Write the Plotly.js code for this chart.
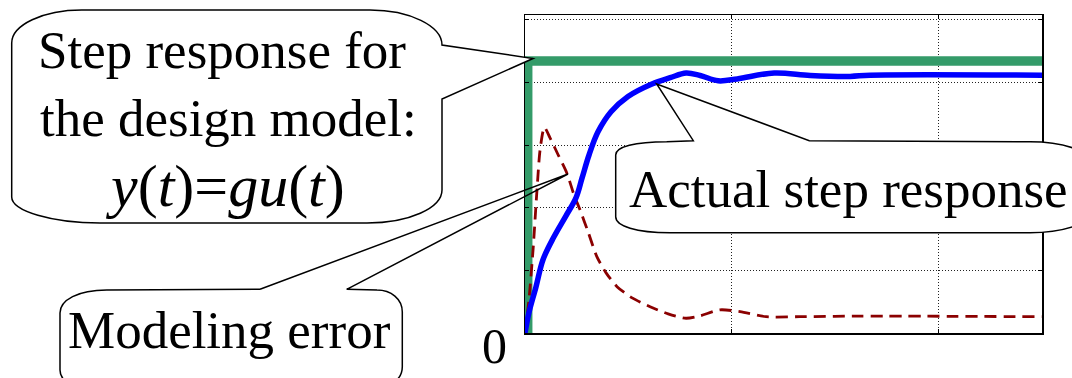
<!DOCTYPE html>
<html>
<head>
<meta charset="utf-8">
<script src="https://cdn.plot.ly/plotly-3.0.1.min.js"></script>
<style>html,body{margin:0;padding:0;background:#fff;}#chart{width:1072px;height:378px;}</style>
</head>
<body>
<div id="chart"></div>
<script>
// ---- data (time in arbitrary units, output in arbitrary units) ----
var designT = [0.013, 0.013, 2.5];
var designY = [0, 0.868, 0.868];

var actualT = [0, 0.019, 0.053, 0.087, 0.140, 0.198, 0.247, 0.276, 0.310, 0.353, 0.416, 0.498, 0.614, 0.702, 0.779, 0.847, 0.934, 1.026, 1.205, 1.379, 1.572, 1.669, 2.5];
var actualY = [0, 0.065, 0.147, 0.234, 0.307, 0.374, 0.432, 0.495, 0.569, 0.642, 0.706, 0.755, 0.795, 0.815, 0.830, 0.822, 0.805, 0.811, 0.830, 0.822, 0.819, 0.823, 0.823];

var errorT = [0, 0.019, 0.039, 0.058, 0.073, 0.094, 0.121, 0.160, 0.202, 0.237, 0.266, 0.305, 0.348, 0.392, 0.445, 0.518, 0.605, 0.692, 0.779, 0.847, 0.943, 1.040, 1.166, 1.330, 1.621, 2.5];
var errorY = [0, 0.106, 0.266, 0.457, 0.585, 0.656, 0.623, 0.569, 0.511, 0.441, 0.393, 0.323, 0.243, 0.192, 0.148, 0.112, 0.084, 0.061, 0.047, 0.055, 0.074, 0.068, 0.052, 0.052, 0.054, 0.052];

var xTicks = [0, 1, 2];
var yTicks = [0, 0.2, 0.4, 0.6, 0.8, 1.0];
var originLabel = "0";

// ---- layout helpers (pixel -> paper) ----
var W = 1072, H = 378, ML = 525, MR = 30, MT = 15, MB = 45;
var PW = W - ML - MR, PH = H - MT - MB;
function px(x) { return (x - ML) / PW; }
function py(y) { return (H - MB - y) / PH; }
function path(cmds) {
  return cmds.map(function (c) {
    if (c[0] === 'Z') return 'Z';
    var pts = [];
    for (var i = 1; i < c.length; i += 2) pts.push(px(c[i]).toFixed(5) + ',' + py(c[i + 1]).toFixed(5));
    return c[0] + ' ' + pts.join(' ');
  }).join(' ');
}

var bubble1 = path([
  ['M', 11.7, 43], ['C', 11.7, 25, 43, 10, 81.7, 10], ['L', 370, 10],
  ['C', 409.6, 10, 442, 26, 442, 45], ['L', 533, 58.5], ['L', 442, 99], ['L', 442, 190],
  ['C', 442, 208, 409, 223, 367, 223], ['L', 100, 223],
  ['C', 52, 223, 11.7, 211, 11.7, 197], ['Z']
]);
var bubble2 = path([
  ['M', 615.7, 155], ['C', 615.7, 147, 635, 141.7, 666.7, 141.7], ['L', 693.3, 140.7],
  ['L', 656.7, 84], ['L', 809.3, 140.7], ['L', 1030, 141.7],
  ['C', 1066, 141.7, 1095, 153, 1095, 167], ['L', 1095, 208],
  ['C', 1095, 222, 1066, 232.7, 1030, 232.7], ['L', 670, 232.7],
  ['C', 636, 232.7, 615.7, 226, 615.7, 216.7], ['Z']
]);
var bubble3body = path([
  ['M', 60, 313], ['C', 60, 300, 78, 290, 106.7, 290], ['L', 377, 290],
  ['C', 391, 290, 402.3, 299, 402.3, 312], ['L', 402.3, 366.7],
  ['C', 402.3, 380, 390, 388, 370, 390], ['L', 100, 390],
  ['C', 75, 390, 60, 382, 60, 370], ['Z']
]);
var bubble3line = path([
  ['M', 260, 289.3], ['L', 568, 174], ['L', 346.7, 289.3], ['L', 377, 290],
  ['C', 391, 290, 402.3, 299, 402.3, 312], ['L', 402.3, 366.7],
  ['C', 402.3, 380, 390, 388, 370, 390], ['L', 100, 390],
  ['C', 75, 390, 60, 382, 60, 370], ['L', 60, 313],
  ['C', 60, 300, 78, 290, 106.7, 290], ['L', 260, 289.3]
]);

var FONT = 'Liberation Serif, Times New Roman, serif';

var traces = [
  { x: designT, y: designY, type: 'scatter', mode: 'lines', line: { color: '#349b69', width: 9.5 }, hoverinfo: 'skip' },
  { x: errorT, y: errorY, type: 'scatter', mode: 'lines', line: { color: '#8b0000', width: 2.8, dash: '12px,7px', shape: 'spline', smoothing: 0.7 }, hoverinfo: 'skip' },
  { x: actualT, y: actualY, type: 'scatter', mode: 'lines', line: { color: '#0000ff', width: 5.5, shape: 'spline', smoothing: 1.0 }, hoverinfo: 'skip' }
];

function ann(text, x, y, size) {
  return { text: text, x: px(x), y: py(y), xref: 'paper', yref: 'paper', showarrow: false,
    xanchor: 'center', yanchor: 'middle', font: { family: FONT, size: size, color: '#000' } };
}

var layout = {
  width: W, height: H,
  margin: { l: ML, r: MR, t: MT, b: MB, pad: 0 },
  paper_bgcolor: '#fff', plot_bgcolor: '#fff',
  showlegend: false,
  xaxis: {
    range: [0, 2.5], tickvals: xTicks, showticklabels: false,
    showgrid: true, gridcolor: '#222', gridwidth: 1, griddash: '1px,2px',
    showline: true, linecolor: '#000', linewidth: 1.5, mirror: 'ticks',
    ticks: 'inside', ticklen: 4, tickcolor: '#000', zeroline: false
  },
  yaxis: {
    range: [0, 1.015], tickvals: yTicks, showticklabels: false,
    showgrid: true, gridcolor: '#222', gridwidth: 1, griddash: '1px,2px',
    showline: true, linecolor: '#000', linewidth: 1.5, mirror: 'ticks',
    ticks: 'inside', ticklen: 4, tickcolor: '#000', zeroline: false
  },
  shapes: [
    { type: 'path', xref: 'paper', yref: 'paper', path: bubble1, fillcolor: '#fff', line: { color: '#000', width: 1.5 }, layer: 'above' },
    { type: 'path', xref: 'paper', yref: 'paper', path: bubble2, fillcolor: '#fff', line: { color: '#000', width: 1.5 }, layer: 'above' },
    { type: 'path', xref: 'paper', yref: 'paper', path: bubble3body, fillcolor: '#fff', line: { width: 0 }, layer: 'above' },
    { type: 'path', xref: 'paper', yref: 'paper', path: bubble3line, fillcolor: 'rgba(0,0,0,0)', line: { color: '#000', width: 1.5 }, layer: 'above' }
  ],
  annotations: [
    ann('Step response for', 222, 50, 53),
    ann('the design model:', 228, 118, 53),
    ann('<i>y</i>(<i>t</i>)=<i>gu</i>(<i>t</i>)', 225, 186, 60),
    ann('Actual step response', 848, 188.7, 53),
    ann('Modeling error', 229, 330, 53),
    ann(originLabel, 494, 346, 50)
  ]
};

Plotly.newPlot('chart', traces, layout, { displayModeBar: false, staticPlot: true });
</script>
</body>
</html>
